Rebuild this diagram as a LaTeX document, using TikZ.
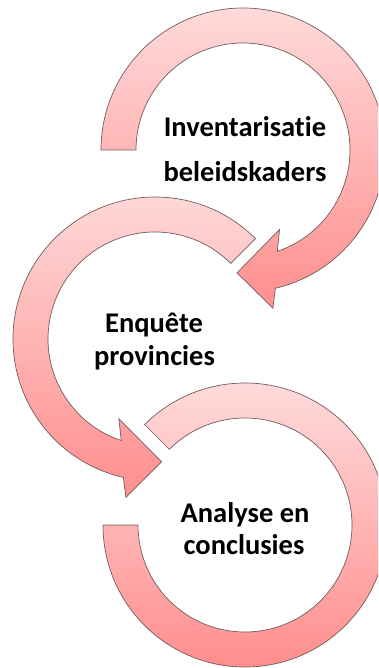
\documentclass[tikz,border=0pt]{standalone}
\usepackage{fontspec}
\setmainfont{Carlito}[Ligatures={NoCommon,NoContextual},RawFeature={-liga;-clig;-dlig}]
\usetikzlibrary{calc}
\definecolor{ptop}{RGB}{255,218,218}
\definecolor{pbot}{RGB}{255,142,142}
\definecolor{pline}{RGB}{115,92,92}
\begin{document}
\begin{tikzpicture}[x=1pt,y=-1pt,
  band/.style={draw=pline, line width=0.7pt, top color=ptop, bottom color=pbot, line join=miter},
  lbl/.style={font=\fontsize{28.5}{34}\selectfont\bfseries, anchor=base, inner sep=0pt}]
\useasboundingbox (0,0) rectangle (378,668);
\clip (0,0) rectangle (378,668);
\coordinate (C1) at (243,150);
\coordinate (C2) at (155,339);
\coordinate (C3) at (245,525);
% top arrow (clockwise, head at bottom)
\path[band] (C1) ++(180:142) arc[start angle=180, end angle=436.8, radius=142]
  -- ($(C1)+(439.3:161)$) -- ($(C1)+(452.8:123)$) -- ($(C1)+(425.3:87.5)$) -- ($(C1)+(431.3:107)$)
  arc[start angle=431.3, end angle=180, radius=107] -- cycle;
% middle arrow (counter-clockwise, head at bottom)
\path[band] (C2) ++(315:142) arc[start angle=315, end angle=102.9, radius=142]
  -- ($(C2)+(100.4:161)$) -- ($(C2)+(86.9:123)$) -- ($(C2)+(114.4:87.5)$) -- ($(C2)+(108.4:107)$)
  arc[start angle=108.4, end angle=315, radius=107] -- cycle;
% bottom ring
\path[band] (C3) ++(180:142) arc[start angle=180, end angle=-135, radius=142]
  -- ($(C3)+(-135:107)$) arc[start angle=-135, end angle=180, radius=107] -- cycle;
% labels
\node[lbl] (t1a) at (245,137) {Inventarisatie};
\node[lbl] (t1b) at (245,182) {beleidskaders};
\node[lbl] (t2a) at (154,332) {Enquête};
\node[lbl] (t2b) at (154.5,365) {provincies};
\node[lbl] (t3a) at (245,522) {Analyse en};
\node[lbl] (t3b) at (244,554) {conclusies};
\end{tikzpicture}
\end{document}
